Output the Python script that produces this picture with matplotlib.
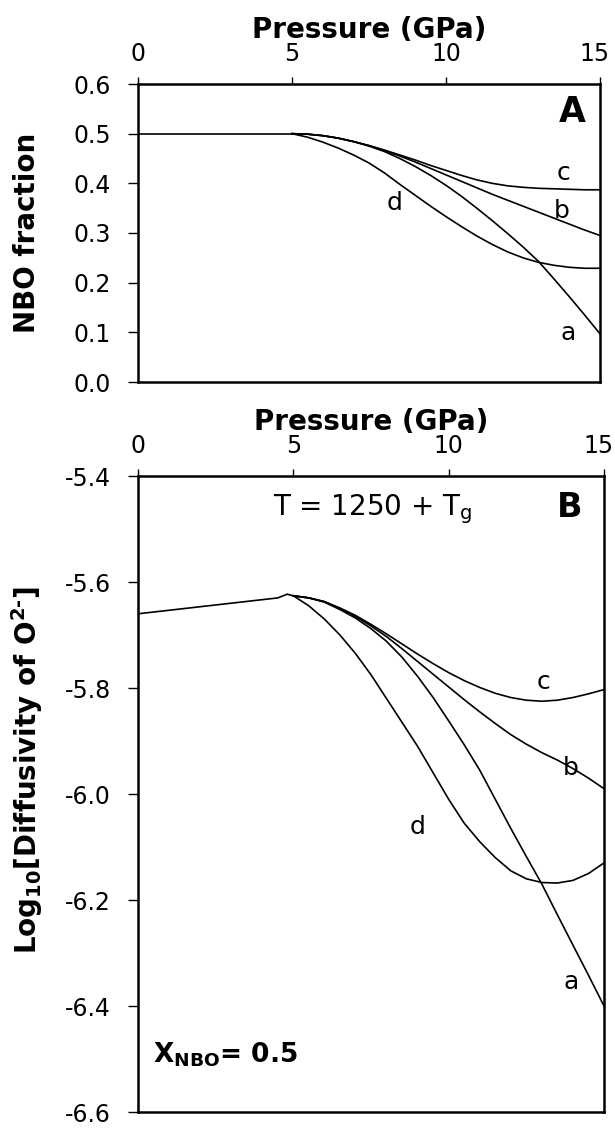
import matplotlib
matplotlib.use("Agg")
import matplotlib.pyplot as plt
from matplotlib.transforms import ScaledTranslation

plt.rcParams['font.family'] = ['DejaVu Sans']
plt.rcParams['mathtext.default'] = 'regular'

# pressure grid (GPa) used for both panels above 5 GPa
p_hi = [5, 5.5, 6, 6.5, 7, 7.5, 8, 8.5, 9, 9.5, 10, 10.5, 11, 11.5, 12,
        12.5, 13, 13.5, 14, 14.5, 15]
p_lo = [0, 5]

# panel A: NBO fraction
nbo_lo = [0.5, 0.5]
nbo_a = [0.5, 0.499, 0.496, 0.491, 0.484, 0.475, 0.464, 0.450, 0.434, 0.416,
         0.396, 0.374, 0.350, 0.325, 0.299, 0.272, 0.243, 0.208, 0.172, 0.135, 0.097]
nbo_b = [0.5, 0.499, 0.496, 0.491, 0.484, 0.476, 0.466, 0.455, 0.443, 0.430,
         0.417, 0.404, 0.391, 0.378, 0.366, 0.354, 0.342, 0.330, 0.318, 0.306, 0.295]
nbo_c = [0.5, 0.499, 0.496, 0.491, 0.484, 0.476, 0.467, 0.457, 0.447, 0.436,
         0.426, 0.416, 0.407, 0.400, 0.395, 0.392, 0.390, 0.389, 0.388, 0.387, 0.387]
nbo_d = [0.5, 0.493, 0.483, 0.471, 0.457, 0.441, 0.421, 0.398, 0.376, 0.354,
         0.333, 0.313, 0.294, 0.277, 0.262, 0.250, 0.241, 0.235, 0.231, 0.229, 0.229]

# panel B: log10 diffusivity of O2-
p_b_lo = [0, 4.5, 4.8, 5.0]
logd_lo = [-5.660, -5.630, -5.623, -5.626]
logd_a = [-5.626, -5.630, -5.638, -5.652, -5.668, -5.688, -5.712, -5.742, -5.778, -5.818,
          -5.862, -5.907, -5.955, -6.010, -6.065, -6.118, -6.170, -6.228, -6.285, -6.342, -6.400]
logd_b = [-5.626, -5.630, -5.637, -5.650, -5.665, -5.683, -5.703, -5.726, -5.750, -5.774,
          -5.798, -5.822, -5.845, -5.867, -5.888, -5.906, -5.922, -5.936, -5.952, -5.970, -5.990]
logd_c = [-5.626, -5.630, -5.637, -5.649, -5.663, -5.680, -5.698, -5.717, -5.736, -5.754,
          -5.771, -5.786, -5.799, -5.810, -5.818, -5.823, -5.825, -5.823, -5.818, -5.811, -5.803]
logd_d = [-5.626, -5.645, -5.670, -5.700, -5.735, -5.775, -5.820, -5.865, -5.910, -5.960,
          -6.010, -6.055, -6.090, -6.120, -6.145, -6.160, -6.167, -6.168, -6.163, -6.150, -6.130]

curve_names = ['a', 'b', 'c', 'd']
nbo_lab = {'a': (13.97, 0.099), 'b': (13.77, 0.344), 'c': (13.8, 0.421), 'd': (8.32, 0.360)}
logd_lab = {'a': (13.94, -6.355), 'b': (13.94, -5.951), 'c': (13.06, -5.789), 'd': (9.0, -6.062)}


def style_axis(ax, ylim, yticks):
    ax.set_xlim(0, 15)
    ax.set_ylim(*ylim)
    ax.set_xticks([0, 5, 10, 15])
    ax.set_yticks(yticks)
    ax.set_yticklabels(['%.1f' % v for v in yticks])
    ax.xaxis.tick_top()
    ax.xaxis.set_label_position('top')
    ax.tick_params(axis='x', direction='out', length=5, width=1, labelsize=17, pad=8,
                   top=True, bottom=False)
    ax.tick_params(axis='y', direction='out', length=7.5, width=1, labelsize=17, pad=12,
                   left=True, right=False)
    for s in ax.spines.values():
        s.set_linewidth(1.8)
    ax.set_xlabel('Pressure (GPa)', fontsize=20, fontweight='bold', labelpad=3)
    # nudge the "15" label so it stays on the page
    last = ax.get_xticklabels()[-1]
    last.set_transform(last.get_transform() + ScaledTranslation(-5 / 100, 0, fig.dpi_scale_trans))


fig = plt.figure(figsize=(6.15, 11.32), dpi=100)
axA = fig.add_axes([138 / 615, 1 - 382 / 1132, 462 / 615, 298 / 1132])
axB = fig.add_axes([138 / 615, 1 - 1112 / 1132, 466 / 615, 636 / 1132])

# panel A
axA.plot(p_lo, nbo_lo, color='black', lw=1.2)
for name, ys in zip(curve_names, [nbo_a, nbo_b, nbo_c, nbo_d]):
    axA.plot(p_hi, ys, color='black', lw=1.2)
    x, y = nbo_lab[name]
    axA.text(x, y, name, fontsize=18, ha='center', va='center')
style_axis(axA, (0, 0.6), [0.0, 0.1, 0.2, 0.3, 0.4, 0.5, 0.6])
axA.text(14.1, 0.5235, 'A', fontsize=25, fontweight='bold', ha='center', va='baseline')

# panel B
axB.plot(p_b_lo, logd_lo, color='black', lw=1.2)
for name, ys in zip(curve_names, [logd_a, logd_b, logd_c, logd_d]):
    axB.plot(p_hi, ys, color='black', lw=1.2)
    x, y = logd_lab[name]
    axB.text(x, y, name, fontsize=18, ha='center', va='center')
style_axis(axB, (-6.6, -5.4), [-6.6, -6.4, -6.2, -6.0, -5.8, -5.6, -5.4])
axB.text(7.55, -5.474, 'T = 1250 + T$_g$', fontsize=20, ha='center', va='baseline')
axB.text(13.9, -5.477, 'B', fontsize=24, fontweight='bold', ha='center', va='baseline')
axB.text(0.48, -6.506, 'X$_{NBO}$= 0.5', fontsize=19, fontweight='bold', ha='left',
         va='baseline')

# y axis titles, placed in figure pixels so both line up on the left
fig.text(27 / 615, 1 - 233 / 1132, 'NBO fraction', fontsize=20, fontweight='bold',
         rotation=90, ha='center', va='center')
fig.text(27 / 615, 1 - 770 / 1132, 'Log$_{10}$[Diffusivity of O$^{2\u2010}$]', fontsize=20,
         fontweight='bold', rotation=90, ha='center', va='center')

fig.savefig('out.png', dpi=100)
